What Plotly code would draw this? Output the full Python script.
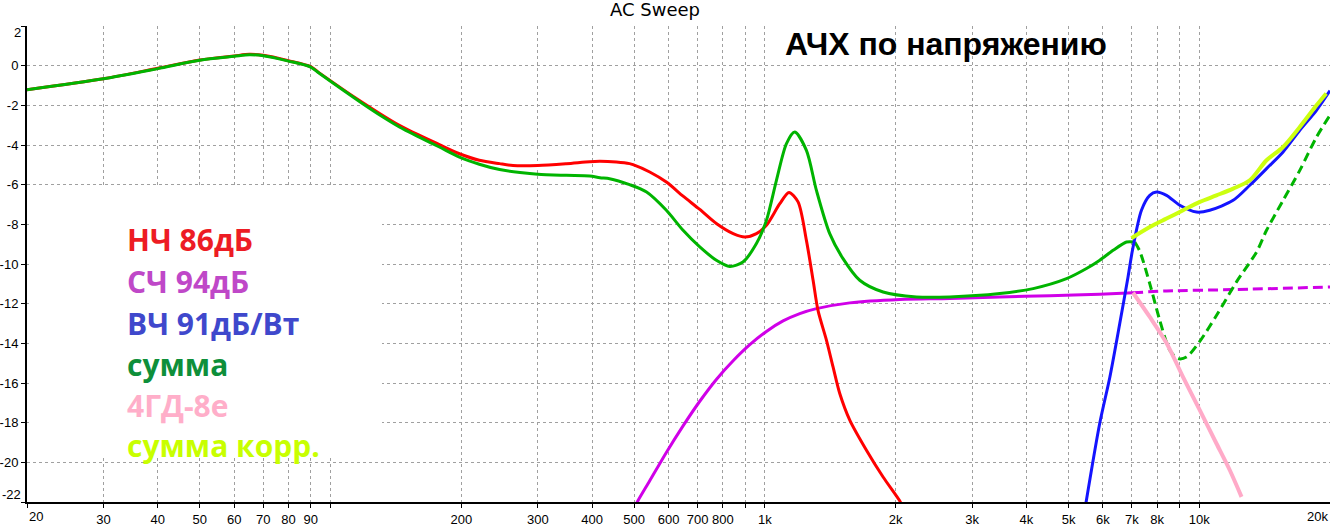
import plotly.graph_objects as go

# ---------------- data (Hz, dB) ----------------
lf_f = [20, 30, 40, 50, 60, 65, 70, 80, 90, 94, 117, 144, 178, 198, 220, 245, 263, 300, 349, 395, 417,
        455, 488, 497, 543, 593, 648, 708, 773, 845, 899, 956, 1008, 1082, 1136, 1192, 1246, 1291, 1325,
        1386, 1435, 1487, 1568, 1713, 1871, 2043, 2070]
lf_db = [-1.21, -0.66, -0.13, 0.29, 0.49, 0.57, 0.52, 0.25, -0.05, -0.35, -1.78, -3.01, -3.98, -4.44, -4.77,
         -4.94, -5.03, -5.03, -4.94, -4.84, -4.82, -4.86, -4.94, -4.99, -5.36, -5.87, -6.58, -7.25, -7.96,
         -8.47, -8.64, -8.47, -8.05, -6.96, -6.39, -6.87, -8.81, -10.82, -12.34, -13.85, -15.19, -16.53,
         -17.87, -19.39, -20.74, -21.94, -22.2]

sum_f = [20, 30, 40, 50, 60, 65, 70, 80, 90, 94, 117, 132, 144, 160, 178, 198, 220, 245, 273, 300, 349,
         395, 417, 439, 488, 534, 593, 648, 708, 773, 830, 890, 956, 1008, 1063, 1121, 1171, 1246, 1314,
         1410, 1513, 1653, 1871, 2233, 2664, 3474, 4146, 4948, 5500, 5902, 6334, 6800, 7104]
sum_db = [-1.21, -0.66, -0.15, 0.27, 0.47, 0.55, 0.50, 0.23, -0.07, -0.37, -1.83, -2.59, -3.09, -3.60,
          -4.10, -4.61, -4.97, -5.24, -5.39, -5.48, -5.53, -5.56, -5.65, -5.70, -6.00, -6.37, -7.29, -8.30,
          -9.14, -9.81, -10.12, -9.90, -8.97, -7.80, -5.78, -3.93, -3.35, -4.27, -6.29, -8.47, -9.73,
          -10.82, -11.41, -11.66, -11.66, -11.49, -11.24, -10.74, -10.23, -9.81, -9.31, -8.89, -8.89]

sumx_f = [7104, 7295, 7692, 8112, 8554, 8938, 9345, 10028, 10954, 12184, 13546, 14286, 15596, 17040,
          18618, 20000]
sumx_db = [-8.89, -9.35, -10.99, -12.84, -14.35, -14.77, -14.69, -13.90, -12.60, -10.90, -9.40, -8.30,
           -6.79, -5.28, -3.60, -2.50]

mf_f = [500, 510, 543, 593, 648, 708, 773, 845, 923, 1008, 1101, 1203, 1314, 1568, 2043, 2664, 3474,
        4529, 5902, 7040]
mf_db = [-22.3, -21.94, -20.93, -19.50, -18.16, -16.92, -15.82, -14.88, -14.07, -13.40, -12.87, -12.50,
         -12.25, -11.96, -11.79, -11.74, -11.66, -11.60, -11.52, -11.45]

mfx_f = [7040, 8406, 11968, 20000]
mfx_db = [-11.45, -11.36, -11.29, -11.16]

hf_f = [5480, 5902, 6223, 6561, 6855, 7018, 7361, 7692, 7972, 8406, 9019, 9854, 10571, 11968, 13074,
        14286, 15596, 17040, 18618, 20000]
hf_db = [-22.1, -18.02, -15.72, -13.0, -10.66, -9.31, -7.29, -6.54, -6.37, -6.54, -7.04, -7.38, -7.29,
         -6.79, -6.03, -5.19, -4.35, -3.26, -2.25, -1.26]

gd_f = [7040, 7692, 8406, 9178, 10028, 10954, 11760, 12512]
gd_db = [-11.45, -12.67, -13.98, -15.70, -17.37, -19.05, -20.40, -21.74]

corr_f = [6980, 7692, 8406, 9178, 10028, 10954, 11968, 13074, 14286, 15596, 17040, 18618, 19600]
corr_db = [-8.70, -8.14, -7.71, -7.29, -6.87, -6.54, -6.20, -5.78, -4.77, -4.10, -3.09, -2.00, -1.40]

x_tickvals = [20, 30, 40, 50, 60, 70, 80, 90, 100, 200, 300, 400, 500, 600, 700, 800, 900, 1000,
              2000, 3000, 4000, 5000, 6000, 7000, 8000, 9000, 10000, 20000]
x_ticktext = ["", "30", "40", "50", "60", "70", "80", "90", "", "200", "300", "400", "500", "600", "700",
              "800", "", "1k", "2k", "3k", "4k", "5k", "6k", "7k", "8k", "", "10k", ""]
y_tickvals = [-22, -20, -18, -16, -14, -12, -10, -8, -6, -4, -2, 0, 2]
y_ticktext = ["", "-20", "-18", "-16", "-14", "-12", "-10", "-8", "-6", "-4", "-2", "0", ""]

legend_texts = ["НЧ 86дБ", "СЧ 94дБ", "ВЧ 91дБ/Вт", "сумма", "4ГД-8е", "сумма корр."]
legend_colors = ["#ed1c24", "#bf48c8", "#3f48cc", "#0e8f3a", "#ffaec9", "#c8ff00"]

title_text = "AC Sweep"
heading_text = "АЧХ по напряжению"

# ---------------- layout geometry ----------------
W, H = 1330, 527
ML, MR, MT, MB = 27, 0, 26, 25
PW, PH = W - ML - MR, H - MT - MB


def px_x(p):
    return (p - ML) / PW


def px_y(p):
    return (H - MB - p) / PH


fig = go.Figure()

def add(f, db, color, width=3, dash=None):
    fig.add_trace(go.Scatter(x=f, y=db, mode="lines",
                             line=dict(color=color, width=width, dash=dash, shape="spline", smoothing=0.8),
                             hoverinfo="skip", showlegend=False))

add(mf_f, mf_db, "#d000e8")
add(mfx_f, mfx_db, "#d000e8", dash="10px,5px")
add(lf_f, lf_db, "#ff0000")
add(sum_f, sum_db, "#00b400")
add(sumx_f, sumx_db, "#00b400", dash="9px,5px")
add(gd_f, gd_db, "#ffaac8", width=4)
add(hf_f, hf_db, "#1414ff")
add(corr_f, corr_db, "#ccff10", width=4)

grid = dict(showgrid=True, gridcolor="#a0a0a0", gridwidth=1, griddash="3px,3px")
tickfont = dict(family="Liberation Sans, Arial, sans-serif", size=13, color="black")

fig.update_xaxes(type="log", range=[1.30103, 4.30103], tickmode="array",
                 tickvals=x_tickvals, ticktext=x_ticktext, ticks="outside", ticklen=4,
                 tickcolor="black", showline=True, linecolor="black", linewidth=2,
                 tickfont=tickfont, zeroline=False, automargin=False, **grid)
fig.update_yaxes(range=[-22, 2], tickmode="array", tickvals=y_tickvals, ticktext=y_ticktext,
                 ticks="outside", ticklen=4, tickcolor="black", showline=True, linecolor="black",
                 linewidth=2, tickfont=tickfont, zeroline=False, automargin=False, **grid)

shapes = [dict(type="rect", xref="paper", yref="paper", x0=px_x(29), x1=px_x(382),
               y0=px_y(457), y1=px_y(186), fillcolor="white", line=dict(width=0), layer="above")]

ann = []
# edge tick labels
ann.append(dict(text="20", x=px_x(27), y=px_y(516), xanchor="left", yanchor="middle", font=tickfont))
ann.append(dict(text="20k", x=px_x(1330), y=px_y(516), xanchor="right", yanchor="middle", font=tickfont))
ann.append(dict(text="2", x=px_x(23), y=px_y(33), xanchor="right", yanchor="middle", font=tickfont))
ann.append(dict(text="-22", x=px_x(23), y=px_y(494), xanchor="right", yanchor="middle", font=tickfont))

ann.append(dict(text=title_text, x=px_x(655), y=px_y(10), xanchor="center", yanchor="middle",
                font=dict(family="DejaVu Sans, sans-serif", size=18, color="black")))
ann.append(dict(text="<b>" + heading_text + "</b>", x=px_x(946), y=px_y(44), xanchor="center",
                yanchor="middle", font=dict(family="Liberation Sans, Arial, sans-serif", size=32,
                                            color="black")))

centers = [240, 281.5, 323, 364.5, 405, 445.5]
for t, c, yc in zip(legend_texts, legend_colors, centers):
    ann.append(dict(text="<b>" + t + "</b>", x=px_x(125), y=px_y(yc), xanchor="left", yanchor="middle",
                    font=dict(family="Open Sans, Noto Sans, sans-serif", size=30, color=c)))

for a in ann:
    a.update(xref="paper", yref="paper", showarrow=False)

fig.update_layout(width=W, height=H, margin=dict(l=ML, r=MR, t=MT, b=MB),
                  paper_bgcolor="white", plot_bgcolor="white", shapes=shapes, annotations=ann)

fig.write_html("out.html", config={"displayModeBar": False},
               post_script="document.body.style.margin='0px';document.body.style.padding='0px';"
                           "document.body.style.overflow='hidden';")
